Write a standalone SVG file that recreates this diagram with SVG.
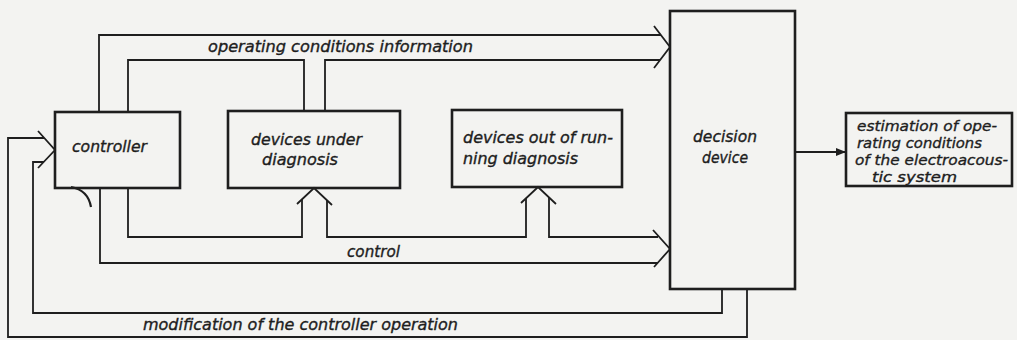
<svg xmlns="http://www.w3.org/2000/svg" width="1017" height="340" viewBox="0 0 1017 340">
<style>
.box{fill:none;stroke:#1e1e1e;stroke-width:2.6}
.wire{fill:none;stroke:#1e1e1e;stroke-width:1.8;stroke-linejoin:miter}
.head{fill:none;stroke:#1e1e1e;stroke-width:1.8;stroke-linejoin:miter}
.lbl{font-family:"DejaVu Sans","Liberation Sans",sans-serif;font-style:italic;font-size:15px;fill:#1e1e1e;stroke:#1e1e1e;stroke-width:0.35}
.sm{font-size:14px}
</style>
<defs>
<marker id="fa" viewBox="0 0 10 8" refX="10" refY="4" markerWidth="11" markerHeight="8" markerUnits="userSpaceOnUse" orient="auto">
<path d="M0,0 L10,4 L0,8 Z" fill="#1e1e1e"/>
</marker>
</defs>
<rect width="1017" height="340" fill="#f3f3f1"/>
<g id="connectors">
<path class="wire" d="M99,112 V35 H661"/>
<path class="wire" d="M128,112 V60 H304 V111"/>
<path class="wire" d="M325,111 V60 H660"/>
<path class="head" d="M654,26 L670,47 L654,68"/>
<path class="wire" d="M128,188 V237 H302 V199"/>
<path class="wire" d="M327,200 V237 H526 V198"/>
<path class="wire" d="M549,197 V237 H658"/>
<path class="wire" d="M100,188 V263 H658"/>
<path class="head" d="M297,204 L314,188 L332,205"/>
<path class="head" d="M521,203 L538,187 L556,204"/>
<path class="head" d="M653,230 L670,249 L654,267"/>
<path class="wire" d="M722,289 V313 H33 V162 H44"/>
<path class="wire" d="M747,289 V337 H8 V138 H44"/>
<path class="head" d="M38,131 L55,150 L38,168"/>
<path class="wire" d="M795,152 H846" marker-end="url(#fa)"/>
<path class="wire" d="M71,187 Q88,190 91,207" style="stroke-width:2.2"/>
<text class="lbl" x="208" y="52" textLength="265" lengthAdjust="spacingAndGlyphs">operating conditions information</text>
<text class="lbl" x="347" y="257" textLength="53" lengthAdjust="spacingAndGlyphs">control</text>
<text class="lbl" x="143" y="330" textLength="315" lengthAdjust="spacingAndGlyphs">modification of the controller operation</text>
</g>
<g id="controller">
<rect class="box" x="55" y="112" width="125" height="76"/>
<text class="lbl" x="72" y="152" textLength="75" lengthAdjust="spacingAndGlyphs">controller</text>
</g>
<g id="devices-under-diagnosis">
<rect class="box" x="228" y="111" width="172" height="77"/>
<text class="lbl" x="251" y="145" textLength="111" lengthAdjust="spacingAndGlyphs">devices under</text>
<text class="lbl" x="262" y="165" textLength="76" lengthAdjust="spacingAndGlyphs">diagnosis</text>
</g>
<g id="devices-out-of-running-diagnosis">
<rect class="box" x="452" y="110" width="170" height="77"/>
<text class="lbl" x="463" y="143" textLength="150" lengthAdjust="spacingAndGlyphs">devices out of run-</text>
<text class="lbl" x="463" y="164" textLength="115" lengthAdjust="spacingAndGlyphs">ning diagnosis</text>
</g>
<g id="decision-device">
<rect class="box" x="670" y="11" width="125" height="278"/>
<text class="lbl" x="693" y="142" textLength="64" lengthAdjust="spacingAndGlyphs">decision</text>
<text class="lbl" x="702" y="163" textLength="46" lengthAdjust="spacingAndGlyphs">device</text>
</g>
<g id="estimation">
<rect class="box" x="846" y="113" width="166" height="73"/>
<text class="lbl sm" x="857" y="131" textLength="140" lengthAdjust="spacingAndGlyphs">estimation of ope-</text>
<text class="lbl sm" x="857" y="148" textLength="125" lengthAdjust="spacingAndGlyphs">rating conditions</text>
<text class="lbl sm" x="855" y="165" textLength="153" lengthAdjust="spacingAndGlyphs">of the electroacous-</text>
<text class="lbl sm" x="872" y="182" textLength="85" lengthAdjust="spacingAndGlyphs">tic system</text>
</g>
</svg>
